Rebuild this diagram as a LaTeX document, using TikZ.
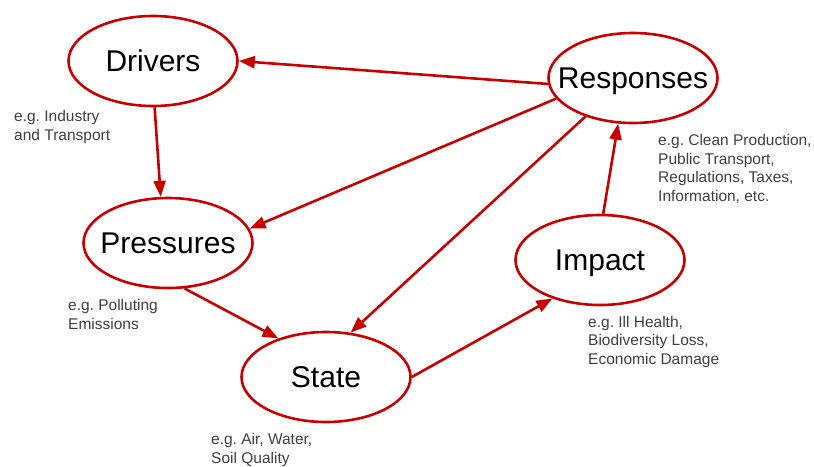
\documentclass[tikz,border=0pt]{standalone}
\usepackage{fontspec}
\setmainfont{Liberation Sans}
\usetikzlibrary{shapes.geometric,arrows.meta}
\definecolor{dpsired}{RGB}{200,0,0}
\definecolor{notegray}{RGB}{64,64,64}

\begin{document}
\begin{tikzpicture}[x=1pt,y=-1pt,
		box/.style={ellipse, draw=dpsired, line width=2.6pt, minimum width=169pt, minimum height=90pt,
			inner xsep=-20pt, inner ysep=0pt,
			font=\fontsize{30}{30}\selectfont, text height=21.5pt, text depth=0pt},
		link/.style={draw=dpsired, line width=2.6pt, -{Triangle[length=16pt,width=12pt]}},
		note/.style={anchor=base west, align=left, inner sep=0pt, text=notegray,
			font=\fontsize{15.5}{18.4}\selectfont\frenchspacing}]
	
	\useasboundingbox (0,0) rectangle (814,466);
	
	\node[box] (D) at (153,61) {Drivers};
	\node[box] (P) at (168,243) {Pressures};
	\node[box] (S) at (326,377) {State};
	\node[box] (I) at (600,260) {Impact};
	\node[box] (R) at (633,78) {Responses};
	
	% notes are placed at the baseline of their last line
	\node[note] (Dn) at (14,140) {e.g. Industry\\and Transport};
	\node[note] (Pn) at (68,329) {e.g. Polluting\\Emissions};
	\node[note] (Sn) at (211,463) {e.g. Air, Water,\\Soil Quality};
	\node[note] (In) at (588,364) {e.g. Ill Health,\\Biodiversity Loss,\\Economic Damage};
	\node[note] (Rn) at (658,201) {e.g. Clean Production,\\Public Transport,\\Regulations, Taxes,\\Information, etc.};
	
	\draw[link] (R.184) -- (D.0);
	\draw[link] (D.272) -- (P.99);
	\draw[link] (R.195) -- (P.10);
	\draw[link] (R.219) -- (S.61);
	\draw[link] (P.290) -- (S.141);
	\draw[link] (S.0) -- (I.219);
	\draw[link] (I.86) -- (R.252);
	
\end{tikzpicture}
\end{document}
